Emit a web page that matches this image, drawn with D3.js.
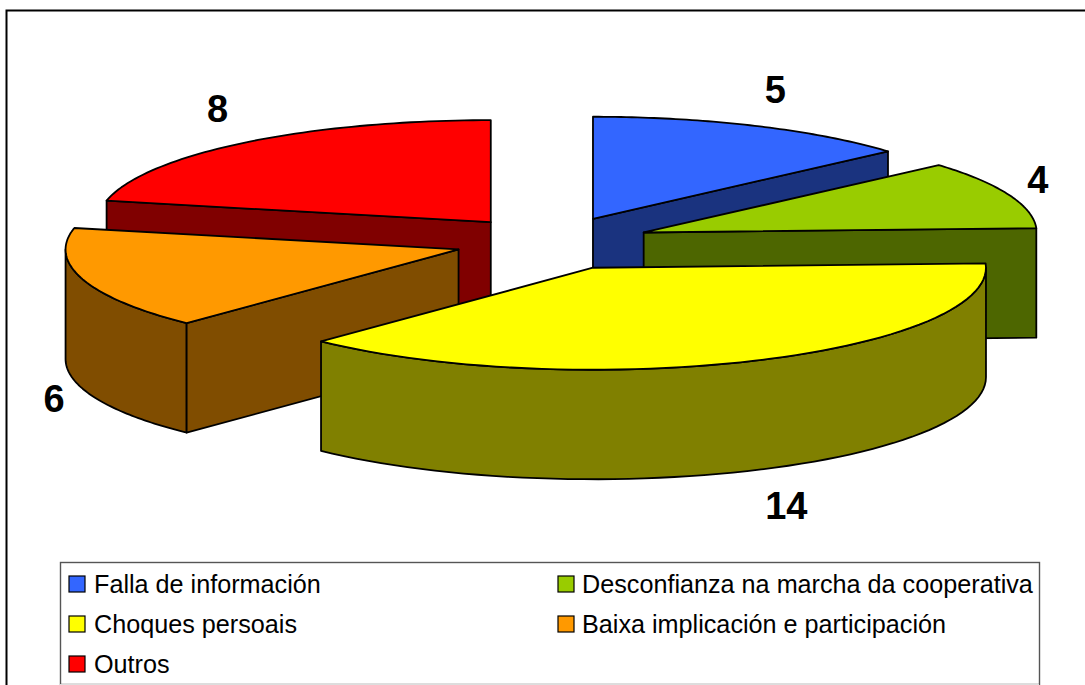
<!DOCTYPE html>
<html>
<head>
<meta charset="utf-8">
<script src="https://cdn.jsdelivr.net/npm/d3@7"></script>
<style>
  html, body { margin: 0; padding: 0; background: #fff; overflow: hidden; }
  text { font-family: "Liberation Sans", Arial, sans-serif; fill: #000; }
</style>
</head>
<body>
<div id="chart"></div>
<script>
const width = 1085;
const height = 685;

const categories = ["Falla de información", "Desconfianza na marcha da cooperativa", "Choques persoais", "Baixa implicación e participación", "Outros"];
const values = [5, 4, 14, 6, 8];
const topColors = ["#3366ff", "#99cc00", "#ffff00", "#ff9900", "#ff0000"];
const sideColors = ["#1a337f", "#4d6600", "#808000", "#804d00", "#800000"];
// label anchors in pie units
const labelPos = [[0.567, 1.5], [1.235, 0.618], [0.595, -2.578], [-1.268, -1.53], [-0.852, 1.314]];

const explode = 0.25;
const depth = 109.5;
// the big slice sits a little lower in the original
const yNudge = [0, 0, 2.5, 0, 0];

const svg = d3.select("#chart")
  .append("svg")
  .attr("width", width)
  .attr("height", height);

// outer frame, right and bottom sides fall outside the picture
svg.append("rect")
  .attr("x", 6.5).attr("y", 10.5)
  .attr("width", 1200).attr("height", 800)
  .attr("fill", "none").attr("stroke", "#000").attr("stroke-width", 2);

// flattened circle: pie units -> pixels
const px = d3.scaleLinear().domain([-1, 1]).range([552.5 - 393, 552.5 + 393]);
const py = d3.scaleLinear().domain([-1, 1]).range([242 + 102, 242 - 102]);

const arcs = d3.pie().sort(null)(values);

const line = d3.line();
const down = p => [p[0], p[1] + depth];

function drawSlice(i) {
  const a = arcs[i];
  const mid = (a.startAngle + a.endAngle) / 2;
  const at = (ang, r = 1) => [
    px(explode * Math.sin(mid) + r * Math.sin(ang)),
    py(explode * Math.cos(mid) + r * Math.cos(ang)) + yNudge[i]
  ];
  const rim = (from, to) => d3.range(0, 61).map(k => at(from + (to - from) * k / 60));
  const apex = at(0, 0);

  const g = svg.append("g")
    .attr("stroke", "#000")
    .attr("stroke-width", 1.8)
    .attr("stroke-linejoin", "round");

  // outer wall, only the part that faces the viewer
  const from = Math.max(a.startAngle, Math.PI / 2);
  const to = Math.min(a.endAngle, Math.PI * 1.5);
  if (to > from) {
    const r = rim(from, to);
    g.append("path")
      .attr("d", line(r.concat(r.slice().reverse().map(down))) + "Z")
      .attr("fill", sideColors[i]);
  }

  // cut faces turned toward the viewer
  const face = ang => {
    const p = at(ang);
    g.append("path")
      .attr("d", line([apex, p, down(p), down(apex)]) + "Z")
      .attr("fill", sideColors[i]);
  };
  if (Math.sin(a.startAngle) < -1e-6) face(a.startAngle);
  if (Math.sin(a.endAngle) > 1e-6) face(a.endAngle);

  // top
  g.append("path")
    .attr("d", line([apex].concat(rim(a.startAngle, a.endAngle))) + "Z")
    .attr("fill", topColors[i]);
}

// back to front
[0, 4, 1, 3, 2].forEach(drawSlice);

// data labels
svg.selectAll("text.value")
  .data(values)
  .enter()
  .append("text")
  .attr("class", "value")
  .attr("x", (d, i) => px(labelPos[i][0]))
  .attr("y", (d, i) => py(labelPos[i][1]))
  .attr("text-anchor", "middle")
  .attr("dy", "0.36em")
  .attr("font-size", 38)
  .attr("font-weight", "bold")
  .text(d => d);

// legend
svg.append("rect")
  .attr("x", 60.5).attr("y", 562.5)
  .attr("width", 979).attr("height", 122)
  .attr("fill", "#fff").attr("stroke", "#555").attr("stroke-width", 1.4);

svg.append("line")
  .attr("x1", 60).attr("x2", 1039)
  .attr("y1", 684.5).attr("y2", 684.5)
  .attr("stroke", "#ddd");

const legend = svg.selectAll("g.legend-item")
  .data(categories)
  .enter()
  .append("g")
  .attr("class", "legend-item")
  .attr("transform", (d, i) => `translate(${i % 2 ? 558 : 69},${576 + Math.floor(i / 2) * 40})`);

legend.append("rect")
  .attr("width", 16)
  .attr("height", 16)
  .attr("fill", (d, i) => topColors[i])
  .attr("stroke", "#000")
  .attr("stroke-width", 1.2);

legend.append("text")
  .attr("x", (d, i) => i % 2 ? 24 : 25)
  .attr("y", 17)
  .attr("font-size", 25.2)
  .text(d => d);
</script>
</body>
</html>
